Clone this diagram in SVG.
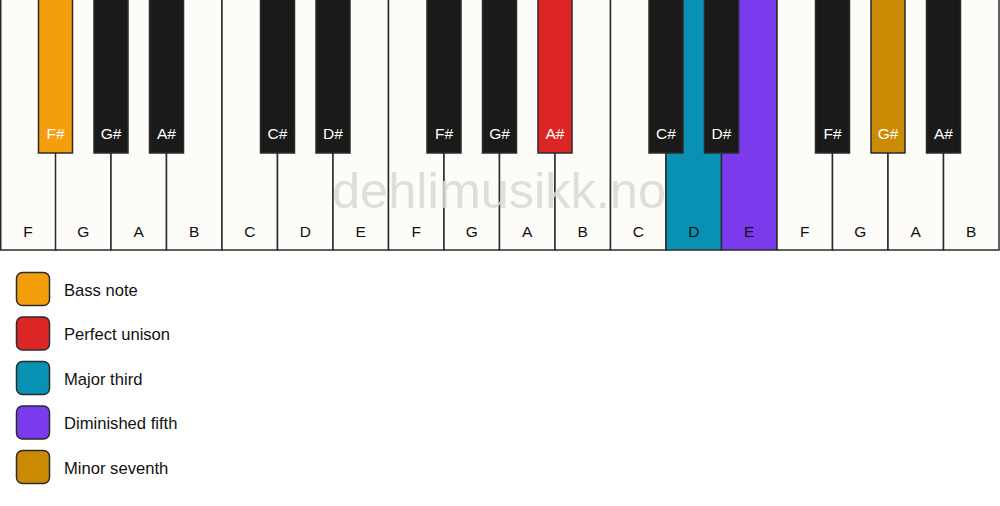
<svg xmlns="http://www.w3.org/2000/svg" width="1000" height="506" viewBox="0 0 1000 506">
<style>
.w{fill:#fdfcf9;stroke:#2b2b2b;stroke-width:1.5}
.b{fill:#1a1a1a;stroke:#2b2b2b;stroke-width:1.5}
.wt{font-family:"Liberation Sans",Arial,sans-serif;font-size:15.5px;fill:#111;text-anchor:middle}
.bt{font-family:"Liberation Sans",Arial,sans-serif;font-size:15.5px;fill:#fff;text-anchor:middle}
.lg{stroke:#2b2b2b;stroke-width:1.5}
.lt{font-family:"Liberation Sans",Arial,sans-serif;font-size:16.6px;fill:#111}
</style>
<rect width="1000" height="506" fill="#ffffff"/>
<g id="white-keys">
<g id="w0"><rect class="w" x="0.75" y="-2" width="55.5" height="252"/><text class="wt" x="28" y="237">F</text></g>
<g id="w1"><rect class="w" x="55.5" y="-2" width="55.5" height="252"/><text class="wt" x="83.25" y="237">G</text></g>
<g id="w2"><rect class="w" x="111" y="-2" width="55.5" height="252"/><text class="wt" x="138.75" y="237">A</text></g>
<g id="w3"><rect class="w" x="166.5" y="-2" width="55.5" height="252"/><text class="wt" x="194.25" y="237">B</text></g>
<g id="w4"><rect class="w" x="222" y="-2" width="55.5" height="252"/><text class="wt" x="249.75" y="237">C</text></g>
<g id="w5"><rect class="w" x="277.5" y="-2" width="55.5" height="252"/><text class="wt" x="305.25" y="237">D</text></g>
<g id="w6"><rect class="w" x="333" y="-2" width="55.5" height="252"/><text class="wt" x="360.75" y="237">E</text></g>
<g id="w7"><rect class="w" x="388.5" y="-2" width="55.5" height="252"/><text class="wt" x="416.25" y="237">F</text></g>
<g id="w8"><rect class="w" x="444" y="-2" width="55.5" height="252"/><text class="wt" x="471.75" y="237">G</text></g>
<g id="w9"><rect class="w" x="499.5" y="-2" width="55.5" height="252"/><text class="wt" x="527.25" y="237">A</text></g>
<g id="w10"><rect class="w" x="555" y="-2" width="55.5" height="252"/><text class="wt" x="582.75" y="237">B</text></g>
<g id="w11"><rect class="w" x="610.5" y="-2" width="55.5" height="252"/><text class="wt" x="638.25" y="237">C</text></g>
<g id="w12"><rect class="w" x="666" y="-2" width="55.5" height="252" style="fill:#0891b2"/><text class="wt" x="693.75" y="237">D</text></g>
<g id="w13"><rect class="w" x="721.5" y="-2" width="55.5" height="252" style="fill:#7c3aed"/><text class="wt" x="749.25" y="237">E</text></g>
<g id="w14"><rect class="w" x="777" y="-2" width="55.5" height="252"/><text class="wt" x="804.75" y="237">F</text></g>
<g id="w15"><rect class="w" x="832.5" y="-2" width="55.5" height="252"/><text class="wt" x="860.25" y="237">G</text></g>
<g id="w16"><rect class="w" x="888" y="-2" width="55.5" height="252"/><text class="wt" x="915.75" y="237">A</text></g>
<g id="w17"><rect class="w" x="943.5" y="-2" width="55.5" height="252"/><text class="wt" x="971.25" y="237">B</text></g>
</g>
<text x="499" y="208" font-family="'Liberation Sans',Arial,sans-serif" font-size="50.5" fill="#d8d8d8" fill-opacity="0.85" text-anchor="middle">dehlimusikk.no</text>
<g id="black-keys">
<g id="b0"><rect class="b" x="38.5" y="-2" width="34" height="155" style="fill:#f59e0b"/><text class="bt" x="55.5" y="139">F#</text></g>
<g id="b1"><rect class="b" x="94" y="-2" width="34" height="155"/><text class="bt" x="111" y="139">G#</text></g>
<g id="b2"><rect class="b" x="149.5" y="-2" width="34" height="155"/><text class="bt" x="166.5" y="139">A#</text></g>
<g id="b3"><rect class="b" x="260.5" y="-2" width="34" height="155"/><text class="bt" x="277.5" y="139">C#</text></g>
<g id="b4"><rect class="b" x="316" y="-2" width="34" height="155"/><text class="bt" x="333" y="139">D#</text></g>
<g id="b5"><rect class="b" x="427" y="-2" width="34" height="155"/><text class="bt" x="444" y="139">F#</text></g>
<g id="b6"><rect class="b" x="482.5" y="-2" width="34" height="155"/><text class="bt" x="499.5" y="139">G#</text></g>
<g id="b7"><rect class="b" x="538" y="-2" width="34" height="155" style="fill:#dc2626"/><text class="bt" x="555" y="139">A#</text></g>
<g id="b8"><rect class="b" x="649" y="-2" width="34" height="155"/><text class="bt" x="666" y="139">C#</text></g>
<g id="b9"><rect class="b" x="704.5" y="-2" width="34" height="155"/><text class="bt" x="721.5" y="139">D#</text></g>
<g id="b10"><rect class="b" x="815.5" y="-2" width="34" height="155"/><text class="bt" x="832.5" y="139">F#</text></g>
<g id="b11"><rect class="b" x="871" y="-2" width="34" height="155" style="fill:#ca8a04"/><text class="bt" x="888" y="139">G#</text></g>
<g id="b12"><rect class="b" x="926.5" y="-2" width="34" height="155"/><text class="bt" x="943.5" y="139">A#</text></g>
</g>
<g id="legend">
<g id="l0"><rect class="lg" x="16.5" y="272.5" width="33" height="33" rx="6" fill="#f59e0b"/><text class="lt" x="64" y="296">Bass note</text></g>
<g id="l1"><rect class="lg" x="16.5" y="317" width="33" height="33" rx="6" fill="#dc2626"/><text class="lt" x="64" y="340">Perfect unison</text></g>
<g id="l2"><rect class="lg" x="16.5" y="361.5" width="33" height="33" rx="6" fill="#0891b2"/><text class="lt" x="64" y="385">Major third</text></g>
<g id="l3"><rect class="lg" x="16.5" y="406" width="33" height="33" rx="6" fill="#7c3aed"/><text class="lt" x="64" y="429">Diminished fifth</text></g>
<g id="l4"><rect class="lg" x="16.5" y="450.5" width="33" height="33" rx="6" fill="#ca8a04"/><text class="lt" x="64" y="474">Minor seventh</text></g>
</g>
</svg>
